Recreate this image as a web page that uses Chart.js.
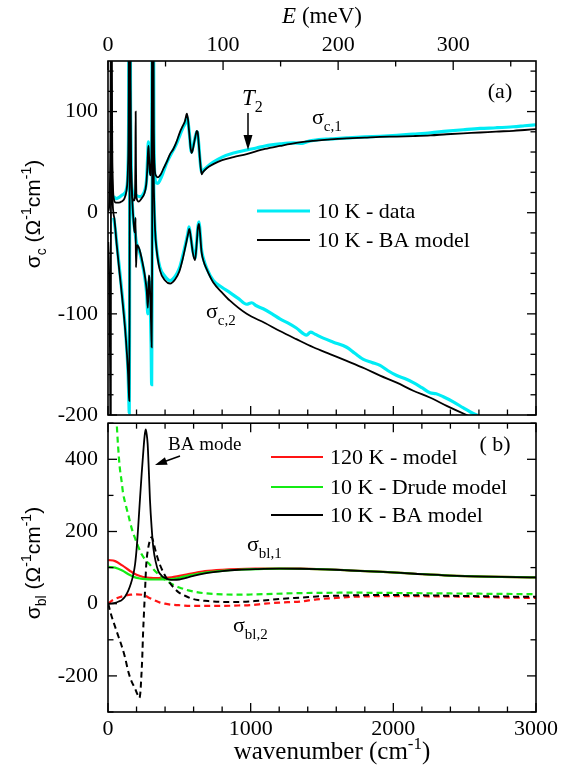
<!DOCTYPE html>
<html>
<head>
<meta charset="utf-8">
<script src="https://cdn.jsdelivr.net/npm/chart.js@4.4.1/dist/chart.umd.min.js"></script>
<style>
  html, body { margin: 0; padding: 0; background: #fff; }
  #wrap { position: relative; width: 574px; height: 779px; overflow: hidden; }
  #chartA { position: absolute; left: 0; top: 0; }
  #chartB { position: absolute; left: 0; top: 400px; }
</style>
</head>
<body>
<div id="wrap">
  <canvas id="chartA" width="574" height="445"></canvas>
  <canvas id="chartB" width="574" height="379"></canvas>
</div>
<script>
// axis ticks
const CM_PER_MEV = 8.0655;
const wnTicks = [0, 1000, 2000, 3000];
const meVTicks = [0, 100, 200, 300];
const sigCTicks = [-200, -100, 0, 100];
const sigBlTicks = [-200, 0, 200, 400];

const legendA = ['10 K - data', '10 K - BA model'];
const legendB = ['120 K - model', '10 K - Drude model', '10 K - BA model'];

// panel (a): [wavenumber cm-1, sigma]
const sigC1Data = [[40,16],[55,14],[75,15],[95,17],[115,19],[130,24],[140,45],[145,110],[148,300],[151,500],[154,300],[158,110],[163,40],[170,22],[185,18],[200,17],[220,16],[240,17],[258,22],[270,32],[277,52],[283,70],[288,60],[293,43],[298,38],[303,48],[308,100],[312,300],[315,400],[318,250],[322,80],[328,38],[336,30],[350,29],[364,32],[390,41],[411,49],[435,56],[458,62],[480,68],[505,77],[525,84],[540,88],[550,93],[556,94],[562,89],[572,76],[580,63],[586,60],[594,64],[605,71],[615,77],[622,80],[628,79],[636,68],[645,52],[652,43],[657,40],[670,42],[700,46],[738,50],[800,55],[880,59],[972,62],[1040,64],[1100,66],[1205,68],[1300,69],[1360,68.5],[1392,70],[1439,71.5],[1560,73],[1673,74],[1800,75],[1907,75.6],[2024,76.5],[2140,77.7],[2260,79],[2374,80.6],[2490,82],[2608,83.3],[2720,84],[2841,85],[2920,86],[3000,87]];
const sigC2Data = [[40,-5],[50,-15],[65,-35],[80,-55],[100,-82],[120,-112],[133,-138],[141,-160],[146,-185],[149,-198],[151,-120],[153,140],[156,110],[160,55],[166,22],[175,-2],[190,-20],[200,-30],[220,-38],[240,-50],[258,-64],[272,-82],[279,-100],[283,-85],[286,-68],[290,-70],[297,-95],[302,-130],[306,-170],[309,-80],[312,140],[316,70],[322,15],[330,-18],[341,-36],[364,-54],[400,-63],[435,-67],[470,-63],[500,-55],[525,-42],[545,-30],[560,-20],[568,-14],[578,-22],[595,-38],[610,-45],[622,-28],[630,-14],[638,-9],[645,-18],[655,-36],[670,-46],[692,-55],[738,-67],[800,-74],[855,-79],[915,-85],[972,-90.5],[1007,-89],[1040,-92],[1088,-95],[1150,-100],[1205,-105],[1260,-109],[1320,-114],[1392,-121],[1420,-118],[1450,-120],[1509,-124],[1580,-128],[1673,-133],[1730,-139],[1790,-145],[1850,-148],[1907,-151],[1960,-156],[2024,-161],[2080,-164],[2140,-168],[2200,-173],[2257,-178],[2300,-179],[2350,-182],[2420,-187],[2491,-193],[2540,-197],[2584,-200],[2650,-205]];
const sigC1Model = [[2,1],[8,6],[13,25],[17,80],[20,200],[23,300],[26,160],[30,60],[35,25],[42,13],[55,10],[75,10],[95,11],[115,14],[130,22],[140,45],[145,120],[148,400],[151,700],[154,400],[158,120],[163,40],[170,18],[180,12],[188,14],[192,50],[194,100],[196,50],[200,15],[215,11],[235,14],[255,19],[268,28],[276,45],[281,62],[284,66],[287,58],[292,42],[297,37],[302,45],[307,90],[311,250],[314,400],[317,250],[321,90],[327,45],[335,37],[350,35],[370,38],[390,44],[411,50],[435,58],[458,63],[480,70],[505,80],[525,86],[540,91],[548,96],[553,98],[560,93],[570,78],[579,64],[586,59],[594,62],[605,70],[615,77],[622,81],[628,80],[636,68],[645,52],[652,42],[657,38],[665,40],[692,44],[738,48],[800,52],[880,55],[972,58],[1100,63],[1205,66],[1320,69],[1439,71],[1560,72.5],[1673,73.5],[1800,74.3],[1907,75],[2024,75.3],[2140,75.8],[2260,76.5],[2374,77.6],[2490,78.5],[2608,79.3],[2720,80.2],[2841,81],[2920,81.8],[3000,82.6]];
const sigC2Model = [[2,-29],[6,-45],[10,-80],[14,-140],[17,-230],[19,-400],[22,300],[25,150],[28,60],[32,15],[38,0],[45,-6],[60,-30],[80,-58],[100,-85],[120,-115],[133,-140],[141,-160],[146,-178],[149,-186],[151,-100],[153,150],[156,120],[160,60],[166,25],[175,0],[185,-18],[191,-20],[193,-5],[196,-54],[199,-45],[205,-32],[220,-36],[240,-48],[258,-62],[272,-78],[279,-94],[283,-80],[286,-62],[290,-64],[297,-85],[302,-110],[306,-133],[309,-60],[312,150],[316,80],[322,20],[330,-17],[341,-37],[364,-57],[400,-67],[435,-70],[470,-66],[500,-58],[525,-45],[545,-32],[560,-22],[570,-16],[580,-24],[595,-40],[610,-47],[622,-30],[630,-15],[638,-11],[645,-20],[655,-38],[670,-48],[692,-56],[738,-69],[800,-79],[855,-87],[972,-100],[1100,-109],[1205,-117],[1320,-125],[1439,-133],[1560,-140],[1673,-146.5],[1800,-154],[1907,-161],[2024,-168],[2140,-176],[2260,-183],[2374,-191],[2514,-200],[2650,-208]];

// panel (b)
const sigBl1Hot = [[2,121],[50,118],[100,106],[150,92],[189,82],[230,76],[259,73],[300,71.5],[329,71],[380,71.5],[446,73],[500,77],[563,82],[620,86],[680,90],[800,94],[914,96],[1050,97],[1200,97.5],[1350,97],[1463,96],[1600,94],[1700,92],[1928,88],[2150,83],[2397,78],[2650,75],[2864,73.4],[3000,73]];
const sigBl2Hot = [[2,0],[25,8],[49,13],[80,18],[119,22],[160,25],[200,26],[248,24],[290,16],[329,9],[365,3],[399,0],[450,-3],[493,-4],[580,-6],[680,-6],[800,-6],[914,-5],[1000,-4],[1100,0],[1200,3],[1346,6],[1463,12],[1600,16],[1696,19],[1800,20],[1928,21],[2100,21],[2250,20.5],[2397,20],[2600,19],[2800,17],[3000,16]];
const sigBl1Drude = [[2,102],[50,100],[100,92],[150,80],[189,73],[230,69.5],[259,68],[300,67],[329,67],[380,67],[446,68],[500,72],[563,78],[620,82],[680,86],[800,91],[914,94],[1050,96],[1200,97],[1350,96.8],[1463,96],[1600,94],[1700,92],[1928,88],[2150,83],[2397,78],[2650,75],[2864,73.4],[3000,73]];
const sigBl2Drude = [[20,1100],[30,850],[40,700],[50,580],[61,500],[70,440],[82,379],[95,340],[105,308],[120,280],[143,245],[165,210],[189,182],[210,160],[236,137],[265,120],[294,108],[320,95],[352,82],[400,66],[446,55],[500,45],[563,37],[620,32],[680,29],[800,26],[914,25],[1000,25.5],[1100,26.5],[1300,29],[1500,30],[1700,30.5],[1928,30],[2200,29],[2500,28],[2800,27],[3000,26.5]];
const sigBl1BA = [[2,0],[30,1],[49,2],[75,6],[96,10],[120,20],[143,37],[160,55],[178,82],[190,110],[201,154],[212,215],[224,289],[236,360],[248,424],[256,462],[264,483],[271,470],[278,442],[286,370],[294,289],[306,210],[318,154],[335,115],[352,91],[375,78],[399,71],[430,67],[458,66],[500,67],[540,71],[600,77],[680,84],[800,90],[914,94],[1050,96],[1200,97],[1350,96.8],[1463,96],[1600,94],[1700,92],[1928,88],[2150,83],[2397,78],[2650,75],[2864,73.4],[3000,73]];
const sigBl2BA = [[2,0],[20,-28],[49,-63],[75,-93],[96,-117],[120,-150],[143,-189],[165,-215],[189,-234],[205,-250],[219,-261],[226,-250],[233,-207],[240,-150],[246,-80],[252,-27],[260,40],[268,108],[280,150],[294,175],[306,184],[317,172],[329,153],[345,130],[364,108],[390,85],[423,63],[455,47],[493,32],[540,22],[587,14],[630,10],[680,8],[797,5],[914,5],[1054,8],[1200,13],[1350,17],[1463,20],[1700,23],[1928,24],[2150,23.5],[2397,22],[2650,20.5],[2850,19.5],[3000,19]];

const SERIF = '"Liberation Serif", "Times New Roman", serif';
const SANS = '"Liberation Sans", Arial, sans-serif';
const CYAN = 'rgb(0,236,245)';
const RED = 'rgb(255,20,20)';
const GREEN = 'rgb(20,235,20)';
const B_TOP = 400; // page offset of the lower canvas

const pts = arr => arr.map(p => ({ x: p[0], y: p[1] }));

function line(data, color, width, dash) {
  return {
    data: pts(data),
    borderColor: color,
    borderWidth: width,
    borderDash: dash || [],
    pointRadius: 0,
    fill: false,
    cubicInterpolationMode: 'monotone'
  };
}

// text with sub/superscripts, parts = [text, 'sub'|'sup'|'', italic]
function rich(ctx, parts, x, y, size, family, align) {
  const fontOf = p => {
    const s = (p[1] === 'sub' || p[1] === 'sup') ? Math.round(size * 0.68) : size;
    return (p[2] ? 'italic ' : '') + s + 'px ' + family;
  };
  let w = 0;
  const ws = parts.map(p => { ctx.font = fontOf(p); const m = ctx.measureText(p[0]).width; w += m; return m; });
  let cx = align === 'center' ? x - w / 2 : (align === 'right' ? x - w : x);
  ctx.textAlign = 'left';
  ctx.textBaseline = 'alphabetic';
  parts.forEach((p, i) => {
    ctx.font = fontOf(p);
    const dy = p[1] === 'sub' ? size * 0.3 : (p[1] === 'sup' ? -size * 0.42 : 0);
    ctx.fillText(p[0], cx, y + dy);
    cx += ws[i];
  });
}

function arrow(ctx, x1, y1, x2, y2, head, half) {
  const ang = Math.atan2(y2 - y1, x2 - x1);
  ctx.beginPath();
  ctx.moveTo(x1, y1);
  ctx.lineTo(x2 - Math.cos(ang) * head * 0.8, y2 - Math.sin(ang) * head * 0.8);
  ctx.stroke();
  ctx.beginPath();
  ctx.moveTo(x2, y2);
  ctx.lineTo(x2 - Math.cos(ang) * head - Math.sin(ang) * half, y2 - Math.sin(ang) * head + Math.cos(ang) * half);
  ctx.lineTo(x2 - Math.cos(ang) * head + Math.sin(ang) * half, y2 - Math.sin(ang) * head - Math.cos(ang) * half);
  ctx.closePath();
  ctx.fill();
}

// inward tick marks along one edge
function tickEdge(ctx, scale, step, major, edge, area) {
  for (let v = scale.min; v <= scale.max + 1e-6; v += step) {
    const len = Math.abs(v / major - Math.round(v / major)) < 1e-6 ? 9 : 5.5;
    const p = scale.getPixelForValue(v);
    ctx.beginPath();
    if (edge === 'top') { ctx.moveTo(p, area.top); ctx.lineTo(p, area.top + len); }
    if (edge === 'bottom') { ctx.moveTo(p, area.bottom); ctx.lineTo(p, area.bottom - len); }
    if (edge === 'left') { ctx.moveTo(area.left, p); ctx.lineTo(area.left + len, p); }
    if (edge === 'right') { ctx.moveTo(area.right, p); ctx.lineTo(area.right - len, p); }
    ctx.stroke();
  }
}

function legendRow(ctx, x1, x2, y, color, width, label) {
  ctx.strokeStyle = color;
  ctx.lineWidth = width;
  ctx.beginPath(); ctx.moveTo(x1, y); ctx.lineTo(x2, y); ctx.stroke();
  ctx.fillStyle = '#000';
  ctx.font = '22px ' + SERIF;
  ctx.textAlign = 'left';
  ctx.textBaseline = 'middle';
  ctx.fillText(label, x2 + 7, y + 1);
}

const decoA = {
  id: 'decoA',
  afterDraw(chart) {
    const { ctx, chartArea: a, scales } = chart;
    ctx.save();
    ctx.strokeStyle = '#000';
    ctx.fillStyle = '#000';
    ctx.lineWidth = 1.6;
    ctx.strokeRect(a.left, a.top, a.right - a.left, a.bottom - a.top);
    ctx.lineWidth = 1.3;
    tickEdge(ctx, scales.xTop, 50, 100, 'top', a);
    tickEdge(ctx, scales.x, 200, 1000, 'bottom', a);
    tickEdge(ctx, scales.y, 20, 100, 'left', a);
    tickEdge(ctx, scales.y, 20, 100, 'right', a);

    // axis titles
    rich(ctx, [['E', '', true], [' (meV)']], 322, 23, 23, SERIF, 'center');
    ctx.save();
    ctx.translate(33, 214);
    ctx.rotate(-Math.PI / 2);
    rich(ctx, [['σ'], ['c', 'sub'], [' (Ω'], ['-1', 'sup'], ['cm'], ['-1', 'sup'], [')']], 0, 7, 21, SANS, 'center');
    ctx.restore();

    // labels
    ctx.font = '22px ' + SERIF;
    ctx.textAlign = 'center';
    ctx.textBaseline = 'middle';
    ctx.fillText('(a)', 500, 92);
    rich(ctx, [['T', '', true], ['2', 'sub']], 242, 105, 23, SERIF, 'left');
    ctx.lineWidth = 1.5;
    arrow(ctx, 248, 113, 248, 150, 15, 4.5);
    rich(ctx, [['σ'], ['c,1', 'sub']], 312, 124, 22, SERIF, 'left');
    rich(ctx, [['σ'], ['c,2', 'sub']], 206, 318, 22, SERIF, 'left');

    legendRow(ctx, 257, 310, 211, CYAN, 3, legendA[0]);
    legendRow(ctx, 257, 310, 240, '#000', 1.8, legendA[1]);
    ctx.restore();
  }
};

const decoB = {
  id: 'decoB',
  afterDraw(chart) {
    const { ctx, chartArea: a, scales } = chart;
    const t = B_TOP;
    ctx.save();
    ctx.strokeStyle = '#000';
    ctx.fillStyle = '#000';
    ctx.lineWidth = 1.6;
    ctx.strokeRect(a.left, a.top, a.right - a.left, a.bottom - a.top);
    ctx.lineWidth = 1.3;
    tickEdge(ctx, scales.x, 200, 1000, 'top', a);
    tickEdge(ctx, scales.x, 200, 1000, 'bottom', a);
    tickEdge(ctx, scales.y, 100, 200, 'left', a);
    tickEdge(ctx, scales.y, 100, 200, 'right', a);

    rich(ctx, [['wavenumber (cm'], ['-1', 'sup'], [')']], 332, 759 - t, 25, SERIF, 'center');
    ctx.save();
    ctx.translate(33, 563 - t);
    ctx.rotate(-Math.PI / 2);
    rich(ctx, [['σ'], ['bl', 'sub'], [' (Ω'], ['-1', 'sup'], ['cm'], ['-1', 'sup'], [')']], 0, 7, 21, SANS, 'center');
    ctx.restore();

    ctx.font = '22px ' + SERIF;
    ctx.textAlign = 'center';
    ctx.textBaseline = 'middle';
    ctx.fillText('( b)', 495, 445 - t);
    ctx.font = '19px ' + SERIF;
    ctx.textAlign = 'left';
    ctx.textBaseline = 'alphabetic';
    ctx.fillText('BA mode', 168, 450 - t);
    ctx.lineWidth = 1.5;
    arrow(ctx, 180, 456 - t, 155, 465 - t, 12, 4);
    rich(ctx, [['σ'], ['bl,1', 'sub']], 247, 551 - t, 22, SERIF, 'left');
    rich(ctx, [['σ'], ['bl,2', 'sub']], 233, 632 - t, 22, SERIF, 'left');

    legendRow(ctx, 271, 323, 457 - t, RED, 2, legendB[0]);
    legendRow(ctx, 271, 323, 487 - t, GREEN, 2, legendB[1]);
    legendRow(ctx, 271, 323, 515 - t, '#000', 1.8, legendB[2]);
    ctx.restore();
  }
};

const tickFont = { family: SERIF, size: 22 };
const fixed = arr => s => { s.ticks = arr.map(v => ({ value: v })); };
const plain = v => String(v);

new Chart(document.getElementById('chartA'), {
  type: 'line',
  data: {
    datasets: [
      line(sigC1Model, '#000', 1.8),
      line(sigC2Model, '#000', 1.8),
      line(sigC1Data, CYAN, 3.2),
      line(sigC2Data, CYAN, 3.2)
    ]
  },
  options: {
    responsive: false,
    animation: false,
    layout: { padding: { left: 0, top: 0, right: 38, bottom: 30 } },
    plugins: { legend: { display: false }, tooltip: { enabled: false } },
    scales: {
      x: { type: 'linear', min: 0, max: 3000, display: false },
      xTop: {
        type: 'linear', position: 'top', min: 0, max: 3000 / CM_PER_MEV,
        grid: { display: false, drawTicks: false }, border: { display: false },
        ticks: { font: tickFont, color: '#000', padding: 3, maxRotation: 0, autoSkip: false, callback: plain },
        afterBuildTicks: fixed(meVTicks),
        afterFit: s => { s.height = 61; }
      },
      y: {
        type: 'linear', min: -200, max: 150,
        grid: { display: false, drawTicks: false }, border: { display: false },
        ticks: { font: tickFont, color: '#000', padding: 10, callback: plain },
        afterBuildTicks: fixed(sigCTicks),
        afterFit: s => { s.width = 108; }
      }
    }
  },
  plugins: [decoA]
});

new Chart(document.getElementById('chartB'), {
  type: 'line',
  data: {
    datasets: [
      line(sigBl1BA, '#000', 1.8),
      line(sigBl2BA, '#000', 2, [6, 4]),
      line(sigBl1Drude, GREEN, 2.2),
      line(sigBl2Drude, GREEN, 2.2, [6, 4]),
      line(sigBl1Hot, RED, 2.2),
      line(sigBl2Hot, RED, 2.2, [6, 4])
    ]
  },
  options: {
    responsive: false,
    animation: false,
    layout: { padding: { left: 0, top: 16, right: 38, bottom: 0 } },
    plugins: { legend: { display: false }, tooltip: { enabled: false } },
    scales: {
      x: {
        type: 'linear', min: 0, max: 3000,
        grid: { display: false, drawTicks: false }, border: { display: false },
        ticks: { font: tickFont, color: '#000', padding: 4, maxRotation: 0, autoSkip: false, callback: plain },
        afterBuildTicks: fixed(wnTicks),
        afterFit: s => { s.height = 67; }
      },
      y: {
        type: 'linear', min: -300, max: 500,
        grid: { display: false, drawTicks: false }, border: { display: false },
        ticks: { font: tickFont, color: '#000', padding: 10, callback: plain },
        afterBuildTicks: fixed(sigBlTicks),
        afterFit: s => { s.width = 108; }
      }
    }
  },
  plugins: [decoB]
});
</script>
</body>
</html>
